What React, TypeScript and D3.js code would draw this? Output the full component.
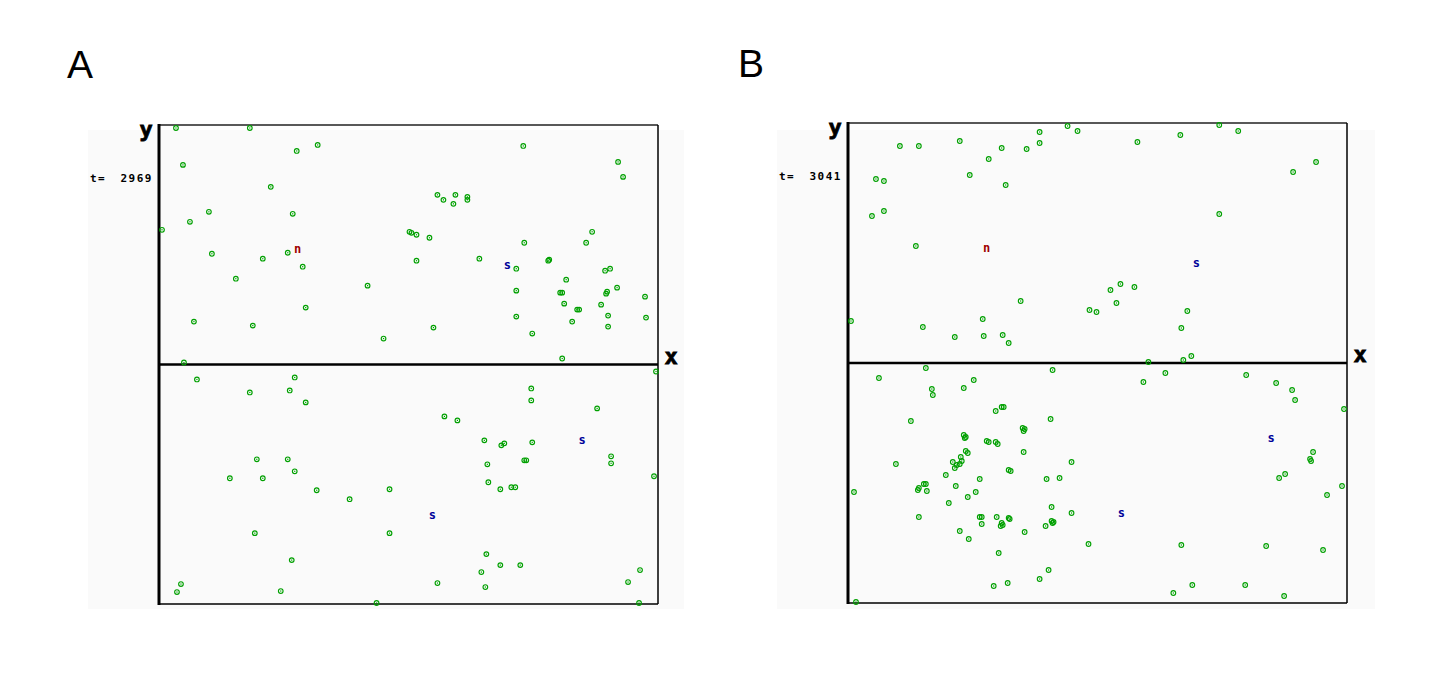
import React, { useEffect, useRef } from 'react';
import * as d3 from 'd3';

// particle positions, x along the wall (0..500), y above/below the midline (-240..240)
const pointsA: [number, number][] = [
  [17, 237], [91, 237], [159, 220], [138, 214], [24, 200], [112, 178], [50, 153], [134, 151],
  [31, 143], [3, 135], [53, 111], [104, 106], [129, 112], [144, 98], [77, 86], [209, 79],
  [147, 57], [35, 43], [94, 39], [225, 26], [25, 2], [365, 219], [460, 203], [465, 188],
  [279, 170], [285, 165], [297, 170], [295, 161], [309, 168], [309, 165], [251, 133], [253, 132],
  [258, 130], [271, 127], [434, 133], [366, 122], [428, 122], [258, 104], [321, 106], [358, 96],
  [390, 104], [391, 105], [447, 94], [452, 96], [408, 85], [358, 74], [402, 72], [404, 72],
  [449, 73], [448, 71], [459, 77], [487, 68], [406, 61], [443, 60], [419, 55], [421, 55],
  [358, 48], [414, 43], [450, 49], [488, 47], [450, 38], [275, 37], [374, 31], [404, 6],
  [38, -15], [136, -13], [91, -28], [131, -26], [147, -38], [98, -95], [129, -95], [136, -107],
  [71, -114], [104, -114], [158, -126], [191, -135], [96, -169], [133, -196], [22, -220], [18, -228],
  [122, -227], [218, -239], [498, -7], [373, -24], [373, -36], [439, -44], [286, -52], [299, -56],
  [326, -76], [343, -81], [346, -79], [374, -78], [453, -92], [453, -99], [366, -96], [368, -96],
  [329, -100], [496, -112], [231, -125], [330, -118], [342, -125], [353, -123], [357, -123], [231, -169],
  [328, -190], [342, -201], [362, -201], [323, -208], [482, -206], [279, -219], [327, -223], [470, -218],
  [481, -239],
];

const pointsB: [number, number][] = [
  [220, 237], [192, 231], [192, 220], [52, 217], [71, 217], [112, 222], [154, 215], [179, 214],
  [141, 204], [122, 188], [158, 178], [28, 184], [36, 182], [36, 152], [24, 147], [68, 117],
  [173, 62], [3, 42], [135, 44], [75, 36], [107, 26], [136, 27], [155, 28], [161, 20],
  [230, 232], [290, 221], [333, 228], [372, 238], [391, 232], [469, 201], [446, 191], [372, 149],
  [273, 79], [263, 73], [287, 76], [269, 60], [242, 53], [249, 51], [340, 52], [334, 35],
  [344, 7], [336, 3], [301, 1],
  [78, -5], [31, -15], [205, -7], [84, -26], [85, -32], [116, -25], [126, -17], [154, -44],
  [156, -44], [148, -48], [203, -56], [63, -58], [175, -65], [177, -66], [176, -68], [116, -72],
  [118, -74], [117, -75], [139, -78], [141, -79], [148, -79], [150, -81], [118, -88], [120, -90],
  [176, -89], [113, -94], [105, -99], [107, -105], [112, -101], [114, -98], [109, -102], [48, -101],
  [161, -107], [163, -108], [98, -112], [132, -116], [199, -116], [212, -115], [6, -129], [78, -121],
  [76, -121], [71, -125], [70, -127], [79, -128], [108, -123], [128, -129], [120, -134], [101, -140],
  [204, -144], [71, -154], [132, -154], [134, -154], [149, -154], [134, -161], [154, -160], [153, -163],
  [155, -162], [161, -155], [162, -156], [204, -158], [206, -159], [205, -160], [198, -163], [112, -168],
  [177, -169], [121, -176], [151, -190], [201, -207], [192, -216], [146, -223], [160, -220], [8, -239],
  [318, -10], [296, -19], [399, -12], [429, -20], [445, -27], [448, -37], [497, -46], [224, -99],
  [466, -89], [463, -96], [464, -98], [438, -111], [432, -115], [495, -123], [480, -132], [224, -150],
  [241, -181], [334, -182], [419, -183], [476, -187], [345, -222], [398, -222], [326, -230], [437, -233],
];

// sinks / sources
const markersA: [number, number, string][] = [[139, 115, 'n'], [349, 99, 's'], [424, -76, 's'], [274, -151, 's']];
const markersB: [number, number, string][] = [[139, 115, 'n'], [349, 100, 's'], [424, -75, 's'], [274, -150, 's']];

const panelLabels = ['A', 'B'];
const times = [2969, 3041];

const panels = [
  { label: panelLabels[0], time: times[0], points: pointsA, markers: markersA,
    left: 159, right: 658, top: 125, bottom: 604, bg: [88, 130, 684, 609], labelX: 67, labelY: 78 },
  { label: panelLabels[1], time: times[1], points: pointsB, markers: markersB,
    left: 848, right: 1347, top: 123, bottom: 603, bg: [777, 130, 1375, 609], labelX: 738, labelY: 77 },
];

const mono = 'DejaVu Sans Mono, monospace';

const App = () => {
  const svgRef = useRef<SVGSVGElement>(null);

  useEffect(() => {
    const svg = d3.select(svgRef.current);
    svg.selectAll('*').remove();

    panels.forEach(p => {
      const x = d3.scaleLinear().domain([0, 500]).range([p.left, p.right]);
      const y = d3.scaleLinear().domain([-240, 240]).range([p.bottom, p.top]);
      const g = svg.append('g');

      g.append('rect')
        .attr('x', p.bg[0]).attr('y', p.bg[1])
        .attr('width', p.bg[2] - p.bg[0]).attr('height', p.bg[3] - p.bg[1])
        .attr('fill', '#fafafa');

      g.append('text')
        .attr('x', p.labelX).attr('y', p.labelY)
        .attr('font-family', 'Liberation Sans, Arial, sans-serif')
        .attr('font-size', 39)
        .text(p.label);

      // box
      g.append('line').attr('x1', p.left).attr('x2', p.right).attr('y1', p.top).attr('y2', p.top)
        .attr('stroke', '#222').attr('stroke-width', 1.5);
      g.append('line').attr('x1', p.right).attr('x2', p.right).attr('y1', p.top).attr('y2', p.bottom)
        .attr('stroke', '#000').attr('stroke-width', 1.5);
      g.append('line').attr('x1', p.left).attr('x2', p.right).attr('y1', p.bottom).attr('y2', p.bottom)
        .attr('stroke', '#000').attr('stroke-width', 1.5);
      // axes
      g.append('line').attr('x1', p.left).attr('x2', p.right).attr('y1', y(0)).attr('y2', y(0))
        .attr('stroke', '#000').attr('stroke-width', 2.5);
      g.append('line').attr('x1', p.left).attr('x2', p.left).attr('y1', p.top - 1).attr('y2', p.bottom + 1)
        .attr('stroke', '#000').attr('stroke-width', 3);

      g.append('text')
        .attr('x', p.left - 13).attr('y', p.top + 12)
        .attr('text-anchor', 'middle')
        .attr('font-family', mono)
        .attr('font-weight', 'bold').attr('font-size', 22)
        .attr('stroke', '#000').attr('stroke-width', 0.8)
        .text('y');
      g.append('text')
        .attr('x', p.right + 13).attr('y', y(0) - 1)
        .attr('text-anchor', 'middle')
        .attr('font-family', mono)
        .attr('font-weight', 'bold').attr('font-size', 22)
        .attr('stroke', '#000').attr('stroke-width', 0.8)
        .text('x');

      g.append('text')
        .attr('x', p.left - 69).attr('y', p.top + 57)
        .attr('font-family', mono)
        .attr('font-weight', 'bold').attr('font-size', 11)
        .attr('letter-spacing', 1.5)
        .text('t=');
      g.append('text')
        .attr('x', p.left - 6).attr('y', p.top + 57)
        .attr('text-anchor', 'end')
        .attr('font-family', mono)
        .attr('font-weight', 'bold').attr('font-size', 11)
        .attr('letter-spacing', 1.5)
        .text(p.time);

      const dots = g.selectAll('.dot')
        .data(p.points)
        .enter().append('g')
        .attr('class', 'dot')
        .attr('transform', d => `translate(${x(d[0])},${y(d[1])})`);
      dots.append('circle')
        .attr('r', 2.3)
        .attr('fill', 'none')
        .attr('stroke', '#00a000')
        .attr('stroke-width', 1.2);
      dots.append('rect')
        .attr('x', -0.6).attr('y', -0.6).attr('width', 1.2).attr('height', 1.2)
        .attr('fill', '#00a000');

      g.selectAll('.marker')
        .data(p.markers)
        .enter().append('text')
        .attr('class', 'marker')
        .attr('x', d => x(d[0]))
        .attr('y', d => y(d[1]) + 3.5)
        .attr('text-anchor', 'middle')
        .attr('font-family', mono)
        .attr('font-weight', 'bold').attr('font-size', 12)
        .attr('fill', d => (d[2] === 'n' ? '#a00000' : '#000099'))
        .text(d => d[2]);
    });
  }, []);

  return (
    <svg ref={svgRef} width={1450} height={700}
      style={{ position: 'absolute', left: 0, top: 0, background: '#fff' }}></svg>
  );
};

export default App;
